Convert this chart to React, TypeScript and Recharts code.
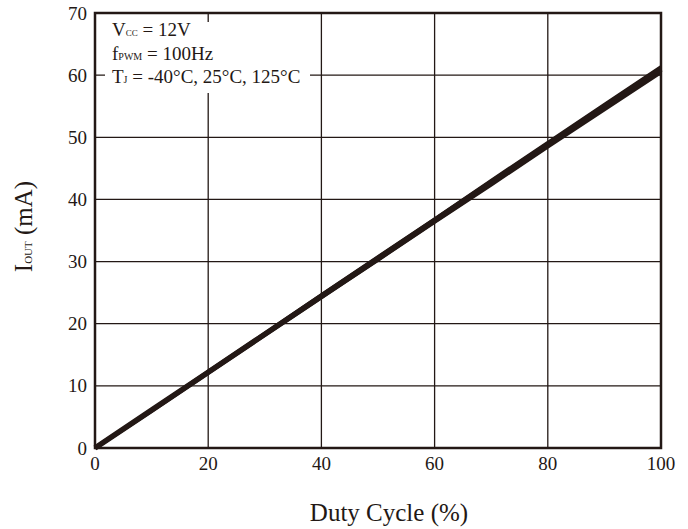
import React from "react";
import {
  LineChart,
  Line,
  XAxis,
  YAxis,
  CartesianGrid,
  ReferenceArea,
} from "recharts";

const INK = "#231815";
const FONT = '"Liberation Serif", "Times New Roman", serif';

// duty cycle (%) and output current (mA) per junction temperature
const dutyCycle = [0, 10, 20, 30, 40, 50, 60, 70, 80, 90, 100];
const iOutMinus40 = [0, 6.0, 12.1, 18.2, 24.3, 30.3, 36.4, 42.4, 48.5, 54.5, 60.5];
const iOut25 = [0, 6.1, 12.2, 18.3, 24.4, 30.5, 36.6, 42.7, 48.8, 54.9, 61.0];
const iOut125 = [0, 6.1, 12.3, 18.4, 24.6, 30.7, 36.8, 43.0, 49.1, 55.2, 61.3];

const xTicks = [0, 20, 40, 60, 80, 100];
const yTicks = [0, 10, 20, 30, 40, 50, 60, 70];

const data = dutyCycle.map((d, i) => ({
  duty: d,
  tm40: iOutMinus40[i],
  t25: iOut25[i],
  t125: iOut125[i],
}));

const serif = { fontFamily: FONT };

function XTick({ x, y, payload }: any) {
  return (
    <text x={x} y={y + 14} textAnchor="middle" style={serif} fontSize={19} fill={INK}>
      {payload.value}
    </text>
  );
}

function YTick({ x, y, payload }: any) {
  return (
    <text x={x} y={y + 6.5} textAnchor="end" style={serif} fontSize={19} fill={INK}>
      {payload.value}
    </text>
  );
}

function YTitle({ viewBox }: any) {
  const cx = 32;
  const cy = viewBox.y + viewBox.height / 2 - 4;
  return (
    <text
      x={cx}
      y={cy}
      transform={`rotate(-90, ${cx}, ${cy})`}
      textAnchor="middle"
      style={serif}
      fontSize={25}
      fill={INK}
    >
      <tspan>I</tspan>
      <tspan fontSize={11}>OUT</tspan>
      <tspan> (mA)</tspan>
    </text>
  );
}

function XTitle({ viewBox }: any) {
  return (
    <text
      x={viewBox.x + viewBox.width / 2 + 11}
      y={viewBox.y + 73}
      textAnchor="middle"
      style={serif}
      fontSize={25}
      fill={INK}
    >
      Duty Cycle (%)
    </text>
  );
}

const sub = { fontSize: 10 };
const condLine = {
  position: "absolute" as const,
  left: 7,
  lineHeight: "19px",
  whiteSpace: "nowrap" as const,
};

export default function App() {
  return (
    <div
      style={{
        position: "absolute",
        left: 0,
        top: 0,
        width: 688,
        height: 529,
        background: "#fff",
        fontFamily: FONT,
      }}
    >
      <LineChart
        width={688}
        height={529}
        data={data}
        margin={{ top: 13, right: 27, bottom: 51, left: 35 }}
      >
        <CartesianGrid
          stroke={INK}
          strokeWidth={1.3}
          horizontalValues={yTicks}
          verticalValues={xTicks}
        />
        <XAxis
          dataKey="duty"
          type="number"
          domain={[0, 100]}
          ticks={xTicks}
          axisLine={false}
          tickLine={false}
          tick={<XTick />}
          height={30}
          label={{ content: XTitle }}
        />
        <YAxis
          type="number"
          domain={[0, 70]}
          ticks={yTicks}
          axisLine={false}
          tickLine={false}
          tick={<YTick />}
          width={60}
          label={{ content: YTitle }}
        />
        <Line
          dataKey="tm40"
          stroke={INK}
          strokeWidth={4}
          dot={false}
          isAnimationActive={false}
        />
        <Line
          dataKey="t125"
          stroke={INK}
          strokeWidth={4}
          dot={false}
          isAnimationActive={false}
        />
        <Line
          dataKey="t25"
          stroke={INK}
          strokeWidth={5.5}
          dot={false}
          isAnimationActive={false}
        />
        <ReferenceArea
          x1={0}
          x2={100}
          y1={0}
          y2={70}
          fill="none"
          fillOpacity={0}
          stroke={INK}
          strokeWidth={2.5}
          ifOverflow="visible"
        />
      </LineChart>

      {/* conditions box */}
      <div
        style={{
          position: "absolute",
          left: 105,
          top: 22,
          width: 205,
          height: 71,
          background: "#fff",
          fontSize: 19,
          color: INK,
        }}
      >
        <div style={{ ...condLine, top: -2 }}>
          V<span style={{ fontSize: 9 }}>CC</span> = 12V
        </div>
        <div style={{ ...condLine, top: 22 }}>
          f<span style={sub}>PWM</span> = 100Hz
        </div>
        <div style={{ ...condLine, top: 45 }}>
          T<span style={sub}>J</span> = -40°C, 25°C, 125°C
        </div>
      </div>
    </div>
  );
}
